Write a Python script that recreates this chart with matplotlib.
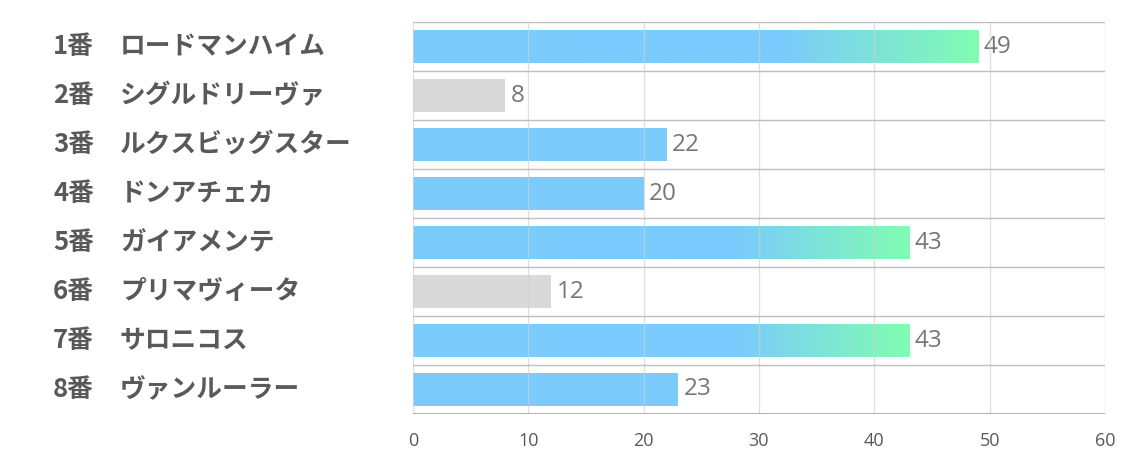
import numpy as np
import matplotlib.pyplot as plt
import matplotlib.transforms as mtransforms
from matplotlib.colors import LinearSegmentedColormap

numbers = ['1番', '2番', '3番', '4番', '5番', '6番', '7番', '8番']
horses = ['ロードマンハイム', 'シグルドリーヴァ', 'ルクスビッグスター', 'ドンアチェカ',
          'ガイアメンテ', 'プリマヴィータ', 'サロニコス', 'ヴァンルーラー']
values = [49, 8, 22, 20, 43, 12, 43, 23]
kinds = ['grad', 'gray', 'blue', 'blue', 'grad', 'gray', 'grad', 'blue']
ticks = [0, 10, 20, 30, 40, 50, 60]

blue = '#7BCBFD'
green = '#80FDB1'
gray = '#D9D9D9'
cmap = LinearSegmentedColormap.from_list('bg', [blue, blue, green])

plt.rcParams['font.family'] = ['Noto Sans CJK JP', 'DejaVu Sans']

fig = plt.figure(figsize=(11.34, 4.53), dpi=100)
ax = fig.add_axes([0.3642, 0.0861, 0.6102, 0.8653])

n = len(values)
ys = np.arange(n)
h = 0.68
grad = np.linspace(0, 1, 256).reshape(1, -1)
for y, v, k in zip(ys, values, kinds):
    c = gray if k == 'gray' else blue
    bars = ax.barh(y, v, height=h, color=c, zorder=2)
    if k == 'grad':
        # gradient over the whole bar, blue for the first part, clipped to the bar
        im = ax.imshow(grad, cmap=cmap, aspect='auto', zorder=2.5,
                       extent=(v * 0.3, v, y + 0.5, y - 0.5), interpolation='bilinear')
        im.set_clip_path(bars[0])
    ax.text(v + 0.45, y, str(v), va='center', ha='left', fontsize=17.5,
            color='#767676', family=['Open Sans', 'DejaVu Sans'])

ax.set_xlim(0, 60)
ax.set_ylim(n - 0.5, -0.5)
ax.set_xticks(ticks)
ax.set_xticklabels([str(t) for t in ticks], fontsize=13, color='#595959',
                   family=['Open Sans', 'DejaVu Sans'])
ax.tick_params(axis='x', length=0, pad=13)
ax.set_yticks([])
for t in ticks:
    ax.axvline(t, color='#D0D0D0', lw=0.9, zorder=3, alpha=0.7)
for b in np.arange(n + 1) - 0.5:
    ax.axhline(b, color='#BFBFBF', lw=1.0, zorder=3)
for s in ax.spines.values():
    s.set_visible(False)
ax.axhline(n - 0.5, color='#A6A6A6', lw=1.2, zorder=4)

blend = mtransforms.blended_transform_factory(fig.transFigure, ax.transData)
for y, num, name in zip(ys, numbers, horses):
    ax.text(53 / 1134, y, num, transform=blend, ha='left', va='center',
            fontsize=18.5, fontweight='bold', color='#595959')
    ax.text(120 / 1134, y, name, transform=blend, ha='left', va='center',
            fontsize=18.5, fontweight='bold', color='#595959')

fig.savefig('out.png', dpi=100)
